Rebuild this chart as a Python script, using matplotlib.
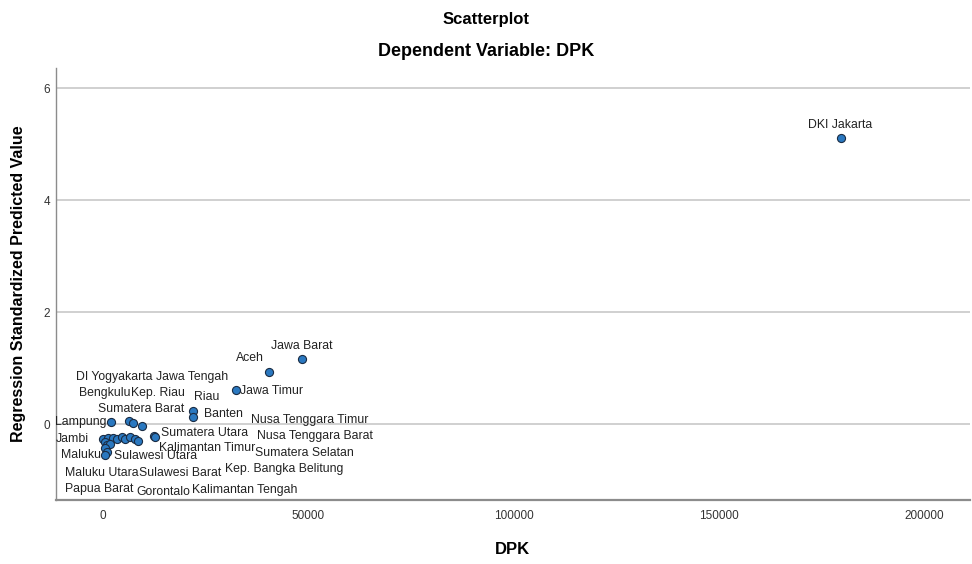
import matplotlib
matplotlib.use('Agg')
from matplotlib import pyplot as plt

plt.rcParams['font.family'] = ['Liberation Sans', 'DejaVu Sans']

# DPK (x) and regression standardized predicted value (y)
dpk = [179560, 48340, 40470, 32290, 21970, 21820,
       1870, 6400, 7230, 9420, 12410, 12720,
       70, 1290, 2500, 3330, 4550, 5350, 6570, 7790, 8590,
       490, 900, 1700, 490, 900, 490]
pred = [5.11, 1.155, 0.934, 0.607, 0.232, 0.12,
        0.04, 0.054, 0.012, -0.03, -0.21, -0.24,
        -0.26, -0.25, -0.25, -0.26, -0.23, -0.26, -0.24, -0.26, -0.30,
        -0.316, -0.375, -0.363, -0.434, -0.494, -0.554]

# point labels as SPSS placed them (text centre in data units)
labels = ['DKI Jakarta', 'Jawa Barat', 'Aceh', 'Jawa Timur', 'Jawa Tengah', 'DI Yogyakarta',
          'Bengkulu', 'Kep. Riau', 'Riau', 'Banten', 'Sumatera Barat', 'Lampung',
          'Nusa Tenggara Timur', 'Sumatera Utara', 'Nusa Tenggara Barat', 'Jambi',
          'Kalimantan Timur', 'Sumatera Selatan', 'Maluku', 'Sulawesi Utara',
          'Maluku Utara', 'Sulawesi Barat', 'Kep. Bangka Belitung', 'Papua Barat',
          'Gorontalo', 'Kalimantan Tengah']
label_x = [179300, 48420, 35770, 41000, 21800, 2700,
           500, 13300, 25200, 29400, 9300, -5400,
           50400, 24800, 51600, -7400,
           25300, 49000, -5300, 12900,
           -200, 18700, 44000, -1000,
           14700, 34500]
label_y = [5.34, 1.39, 1.18, 0.59, 0.84, 0.84,
           0.56, 0.55, 0.49, 0.18, 0.27, 0.04,
           0.08, -0.16, -0.21, -0.26,
           -0.43, -0.51, -0.56, -0.58,
           -0.87, -0.87, -0.81, -1.16,
           -1.21, -1.17]

fig = plt.figure(figsize=(9.72, 5.64), dpi=100)
ax = fig.add_axes([0.0576, 0.1135, 0.940, 0.766])

ax.set_xlim(-11435, 210950)
ax.set_ylim(-1.357, 6.36)
ax.set_yticks([0, 2, 4, 6])
ax.set_xticks([0, 50000, 100000, 150000, 200000])
ax.grid(axis='y', color='#c8c8c8', linewidth=1.2)
ax.set_axisbelow(True)

for s in ['top', 'right']:
  ax.spines[s].set_visible(False)
ax.spines['left'].set_color('#8c8c8c')
ax.spines['left'].set_linewidth(1.0)
ax.spines['bottom'].set_color('#8c8c8c')
ax.spines['bottom'].set_linewidth(1.6)
ax.tick_params(axis='both', labelsize=8.5, colors='#333333', length=0)
ax.tick_params(axis='y', pad=4)
ax.tick_params(axis='x', pad=7)

ax.scatter(dpk, pred, s=34, color='#2a78c0', edgecolors='#1a2c44', linewidths=0.8, zorder=3)

for name, lx, ly in zip(labels, label_x, label_y):
  ax.text(lx, ly, name, ha='center', va='center', fontsize=8.8, color='#222222', zorder=4)

fig.text(0.5, 0.966, 'Scatterplot', ha='center', va='center', fontsize=12, fontweight='bold')
fig.text(0.5, 0.909, 'Dependent Variable: DPK', ha='center', va='center', fontsize=13, fontweight='bold')
ax.set_xlabel('DPK', fontsize=12, fontweight='bold')
ax.set_ylabel('Regression Standardized Predicted Value', fontsize=11.5, fontweight='bold')
ax.xaxis.set_label_coords(0.5, -0.097)
ax.yaxis.set_label_coords(-0.033, 0.5)

fig.savefig('out.png', dpi=100)
